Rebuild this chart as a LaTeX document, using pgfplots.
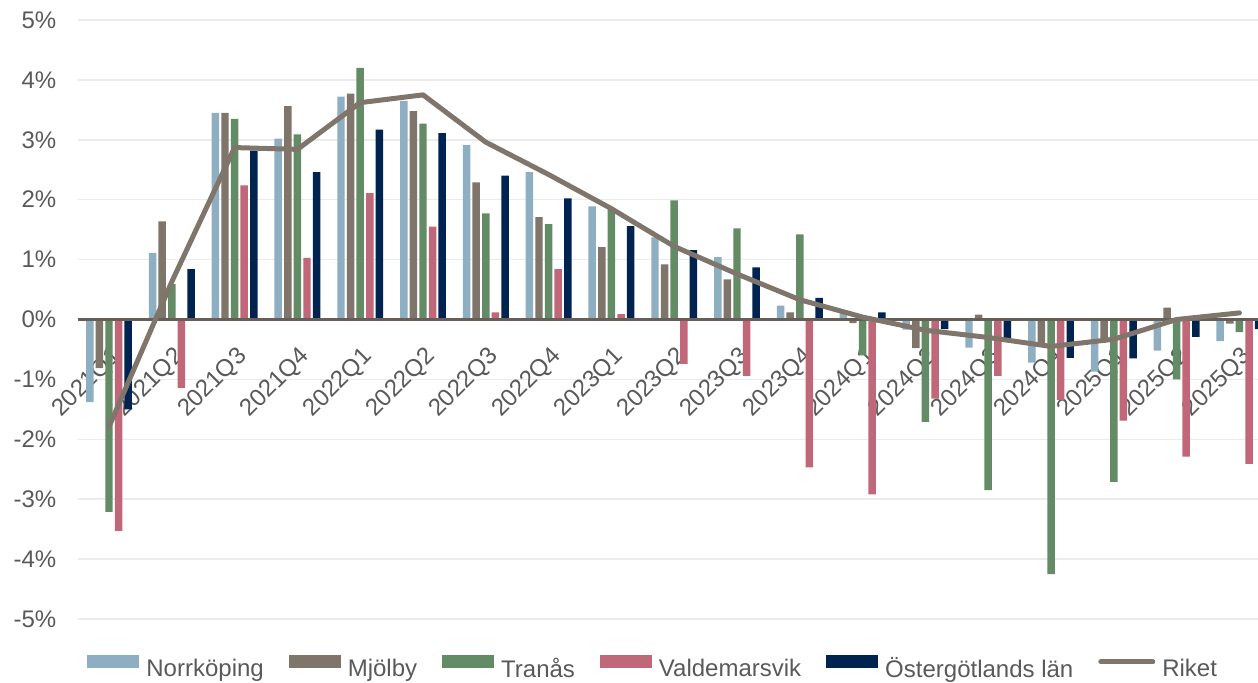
\documentclass[border=0pt]{standalone}
\usepackage{fontspec}
\setmainfont{Liberation Sans}
\usepackage{pgfplots}
\usepackage{pgfplotstable}
\pgfplotsset{compat=1.18}

\definecolor{cNorr}{HTML}{8EAEC2}
\definecolor{cMjol}{HTML}{7F756B}
\definecolor{cTran}{HTML}{638C66}
\definecolor{cVald}{HTML}{C0687A}
\definecolor{cOst}{HTML}{00234F}
\definecolor{cRiket}{HTML}{7F756B}
\definecolor{cText}{HTML}{595959}
\definecolor{cGrid}{HTML}{EBEBEB}
\definecolor{cZero}{HTML}{675E57}

% Quarterly change in per cent
\pgfplotstableread{
idx Norr  Mjol  Tran  Vald  Ost   Riket
0   -1.38 -0.81 -3.21 -3.53 -1.50 -1.79
1    1.11  1.64  0.59 -1.14  0.84  0.63
2    3.45  3.45  3.35  2.24  2.82  2.87
3    3.02  3.56  3.09  1.03  2.46  2.84
4    3.72  3.77  4.20  2.11  3.17  3.62
5    3.65  3.48  3.27  1.55  3.11  3.75
6    2.91  2.29  1.77  0.12  2.40  2.96
7    2.46  1.71  1.59  0.84  2.02  2.42
8    1.89  1.21  1.84  0.09  1.56  1.85
9    1.37  0.92  1.99 -0.74  1.16  1.22
10   1.04  0.67  1.52 -0.94  0.87  0.76
11   0.23  0.12  1.42 -2.47  0.36  0.33
12   0.11 -0.06 -0.60 -2.92  0.12  0.04
13  -0.17 -0.48 -1.71 -1.32 -0.16 -0.18
14  -0.47  0.08 -2.85 -0.94 -0.31 -0.30
15  -0.72 -0.45 -4.25 -1.34 -0.64 -0.45
16  -0.87 -0.35 -2.71 -1.69 -0.65 -0.33
17  -0.52  0.20 -1.00 -2.29 -0.29  0.00
18  -0.36 -0.07 -0.21 -2.41 -0.16  0.11
}\prisdata

\pgfplotsset{
  barswatch/.style={legend image code/.code={%
    \fill[##1] (0pt,0.35em-3.25pt) rectangle (26pt,0.35em+3.25pt);}},
  lineswatch/.style={legend image code/.code={%
    \draw[##1] (1pt,0.35em) -- (27pt,0.35em);}},
}

\begin{document}
\begin{tikzpicture}
\begin{axis}[
  width=590.2pt, height=299.5pt, scale only axis,
  xmin=-0.5, xmax=18.296, ymin=-5, ymax=5,
  axis line style={draw=none},
  tick style={draw=none},
  ytick={-5,-4,...,5},
  yticklabels={-5\%,-4\%,-3\%,-2\%,-1\%,0\%,1\%,2\%,3\%,4\%,5\%},
  xtick={0,1,...,18},
  xticklabels={2021Q1,2021Q2,2021Q3,2021Q4,2022Q1,2022Q2,2022Q3,2022Q4,
    2023Q1,2023Q2,2023Q3,2023Q4,2024Q1,2024Q2,2024Q3,2024Q4,2025Q1,2025Q2,2025Q3},
  ymajorgrids, grid style={draw=cGrid, line width=0.75pt},
  tick label style={text=cText, font=\fontsize{12}{14}\selectfont},
  yticklabel style={anchor=east, inner sep=0pt, xshift=-10.5pt},
  xticklabel style={yshift=137pt, xshift=0.5pt, rotate=45, anchor=north east, inner sep=0pt},
  bar width=0.119,
  legend columns=6,
  legend style={at={(0.0029,-0.0818)}, anchor=west, draw=none, fill=none,
    font=\fontsize{12}{14}\selectfont, text=cText,
    nodes={inner sep=0pt},
    /tikz/every odd column/.append style={column sep=3.5pt},
    /tikz/every even column/.append style={column sep=12.5pt}},
  legend cell align=left,
]
\addplot[ybar, bar shift=-0.306, fill=cNorr, draw=none, barswatch] table[x=idx, y=Norr] {\prisdata};
\addlegendentry{Norrköping}
\addplot[ybar, bar shift=-0.153, fill=cMjol, draw=none, barswatch] table[x=idx, y=Mjol] {\prisdata};
\addlegendentry{Mjölby}
\addplot[ybar, bar shift=0, fill=cTran, draw=none, barswatch] table[x=idx, y=Tran] {\prisdata};
\addlegendentry{Tranås}
\addplot[ybar, bar shift=0.153, fill=cVald, draw=none, barswatch] table[x=idx, y=Vald] {\prisdata};
\addlegendentry{Valdemarsvik}
\addplot[ybar, bar shift=0.306, fill=cOst, draw=none, barswatch] table[x=idx, y=Ost] {\prisdata};
\addlegendentry{Östergötlands län}
% horizontal axis line at zero
\draw[cZero, line width=1.2pt] (axis cs:-0.5,0) -- (axis cs:18.296,0);
\addplot[cRiket, line width=2.5pt, line cap=round, line join=round, mark=none, lineswatch] table[x=idx, y=Riket] {\prisdata};
\addlegendentry{Riket}
\coordinate (tl) at (rel axis cs:0,1);
\coordinate (br) at (rel axis cs:1,0);
\end{axis}
\pgfresetboundingbox
\path[use as bounding box] ([shift={(-38.8pt,10pt)}]tl) rectangle ([shift={(0pt,-32pt)}]br);
\end{tikzpicture}
\end{document}
